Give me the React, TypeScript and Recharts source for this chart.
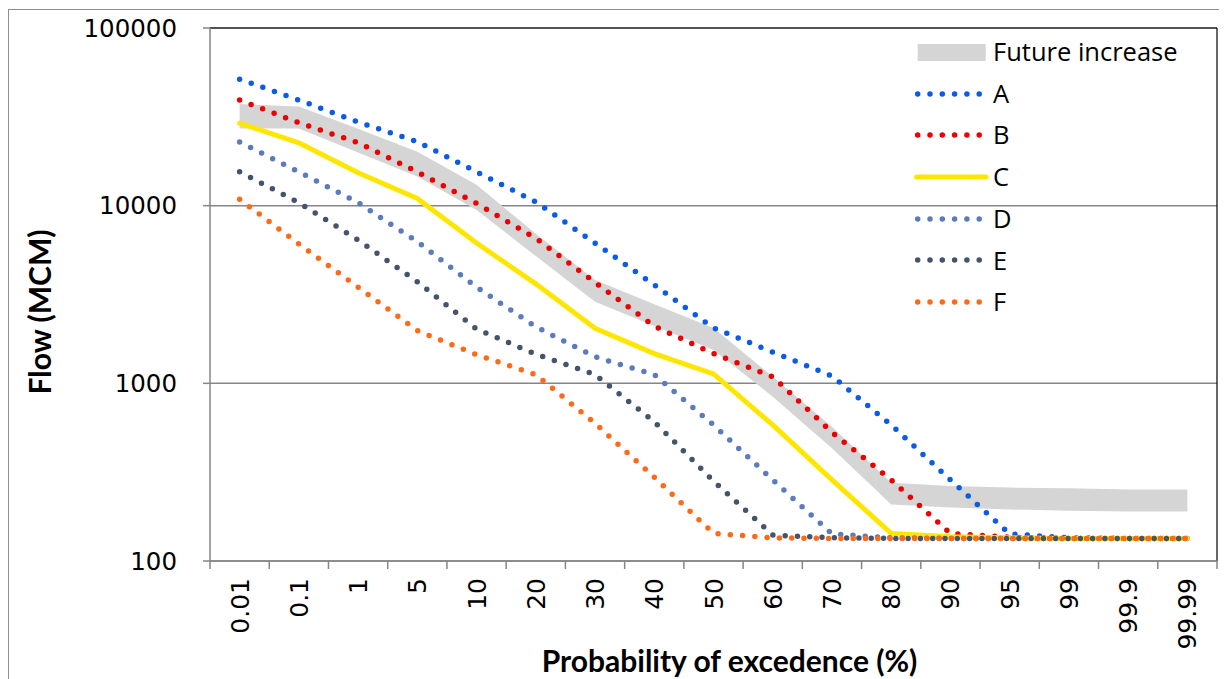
import React from "react"
import {
  Area,
  CartesianGrid,
  ComposedChart,
  Line,
  ReferenceLine,
  XAxis,
  YAxis,
} from "recharts"

const categories = ["0.01", "0.1", "1", "5", "10", "20", "30", "40", "50", "60", "70", "80", "90", "95", "99", "99.9", "99.99"]

const seriesA = [51500, 39300, 29600, 22900, 15500, 10500, 6160, 3580, 2050, 1500, 1100, 583, 286, 142, 135, 134, 134]
const seriesB = [39300, 29300, 22600, 15500, 10300, 6550, 3700, 2100, 1470, 1090, 530, 286, 143, 136, 134, 134, 134]
const seriesC = [29100, 22600, 15300, 10990, 6160, 3630, 2040, 1470, 1130, 583, 286, 143, 137, 135, 134, 134, 134]
const seriesD = [22800, 15500, 10400, 6280, 3480, 2080, 1410, 1120, 583, 286, 142, 135, 134, 134, 134, 134, 134]
const seriesE = [15500, 10400, 6410, 3730, 2020, 1460, 1120, 608, 282, 140, 135, 134, 134, 134, 134, 134, 134]
const seriesF = [10860, 6090, 3480, 1980, 1450, 1120, 596, 296, 143, 135, 134, 134, 134, 134, 134, 134, 134]

// future increase band (lower, upper)
const bandLow = [27200, 27200, 19900, 14600, 9460, 5200, 2880, 2100, 1540, 841, 431, 208, 200, 195, 192, 190, 190]
const bandHigh = [37300, 36100, 27100, 20100, 13100, 6950, 3820, 2790, 2050, 1090, 570, 276, 264, 259, 257, 253, 253]

const yTicks = [100, 1000, 10000, 100000]

const series = [
  { key: "A", values: seriesA, color: "#0a5ce6", dotted: true },
  { key: "B", values: seriesB, color: "#ee0000", dotted: true },
  { key: "C", values: seriesC, color: "#ffe600", dotted: false },
  { key: "D", values: seriesD, color: "#5b7bbd", dotted: true },
  { key: "E", values: seriesE, color: "#44546a", dotted: true },
  { key: "F", values: seriesF, color: "#ff6a17", dotted: true },
]

const data = categories.map((label, i) => {
  const row: Record<string, any> = { label, band: [bandLow[i], bandHigh[i]] }
  series.forEach((s) => {
    row[s.key] = s.values[i]
  })
  return row
})

const AXIS_GRAY = "#868686"
const BAND_GRAY = "#d5d5d5"
const DOT_DASH = "0 12.3"

function XTick(props: any) {
  const { x, y, payload, index } = props
  const half = payload && payload.offset ? payload.offset : 29.6
  const last = index === categories.length - 1
  return (
    <g>
      <line x1={x - half} y1={y} x2={x - half} y2={y + 8} stroke={AXIS_GRAY} strokeWidth={1.5} />
      {last && <line x1={x + half} y1={y} x2={x + half} y2={y + 8} stroke={AXIS_GRAY} strokeWidth={1.5} />}
      <text
        x={x}
        y={y + 17}
        transform={`rotate(-90, ${x}, ${y + 17})`}
        textAnchor="end"
        dy="0.36em"
        fill="#000"
        fontFamily="DejaVu Sans"
        fontSize={25}
      >
        {payload.value}
      </text>
    </g>
  )
}

function LegendBox() {
  return (
    <div style={{ position: "absolute", left: 904, top: 21, fontFamily: "Open Sans", fontSize: 25.5, color: "#000" }}>
      <div style={{ display: "flex", alignItems: "center", height: 41.7 }}>
        <svg width={80} height={20}>
          <rect x={4.7} y={2} width={68} height={17} fill={BAND_GRAY} />
        </svg>
        <span style={{ lineHeight: 1 }}>Future increase</span>
      </div>
      {series.map((s) => (
        <div key={s.key} style={{ display: "flex", alignItems: "center", height: 41.7 }}>
          <svg width={80} height={20}>
            {s.dotted ? (
              <line x1={4.7} y1={10} x2={70} y2={10} stroke={s.color} strokeWidth={5.5} strokeLinecap="round" strokeDasharray={DOT_DASH} />
            ) : (
              <line x1={3.5} y1={10} x2={73} y2={10} stroke={s.color} strokeWidth={5} strokeLinecap="round" />
            )}
          </svg>
          <span style={{ lineHeight: 1 }}>{s.key}</span>
        </div>
      ))}
    </div>
  )
}

export default function App() {
  return (
    <div
      style={{
        position: "relative",
        top: 1,
        width: 1219,
        height: 670,
        borderLeft: "1px solid #8e8e8e",
        borderTop: "1px solid #8e8e8e",
      }}
    >
      <ComposedChart
        width={1214}
        height={668}
        data={data}
        margin={{ top: 18, right: 6, left: 0, bottom: 0 }}
      >
        <CartesianGrid horizontal vertical={false} stroke={AXIS_GRAY} strokeWidth={1.5} />
        <XAxis
          dataKey="label"
          scale="band"
          interval={0}
          height={117}
          tickSize={0}
          tickMargin={0}
          tickLine={false}
          axisLine={{ stroke: AXIS_GRAY, strokeWidth: 1.5 }}
          tick={<XTick />}
          label={{
            content: (p: any) => {
              const vb = p.viewBox
              return (
                <text
                  x={vb.x + vb.width / 2 + 16}
                  y={651}
                  textAnchor="middle"
                  dy="0.36em"
                  fontFamily="Lato"
                  fontWeight="bold"
                  fontSize={30}
                  fill="#000"
                >
                  Probability of excedence (%)
                </text>
              )
            },
          }}
        />
        <YAxis
          scale="log"
          domain={[100, 100000]}
          ticks={yTicks}
          allowDataOverflow
          width={201}
          tickSize={7}
          tickMargin={26}
          axisLine={{ stroke: AXIS_GRAY, strokeWidth: 1.5 }}
          tickLine={{ stroke: AXIS_GRAY, strokeWidth: 1.5 }}
          tick={{ fill: "#000", fontSize: 24.5, fontFamily: "DejaVu Sans" }}
          label={{
            content: () => (
              <text
                x={31}
                y={302}
                transform="rotate(-90, 31, 302)"
                textAnchor="middle"
                dy="0.36em"
                fontFamily="Lato"
                fontWeight="bold"
                fontSize={30}
                fill="#000"
              >
                Flow (MCM)
              </text>
            ),
          }}
        />
        <ReferenceLine y={100000} stroke="#000" strokeWidth={1.2} />
        <ReferenceLine x="99.99" position="end" stroke="#000" strokeWidth={1.2} />
        <Area
          dataKey="band"
          type="linear"
          stroke="none"
          fill={BAND_GRAY}
          fillOpacity={1}
          isAnimationActive={false}
          activeDot={false}
        />
        {series.map((s) => (
          <Line
            key={s.key}
            dataKey={s.key}
            type="linear"
            stroke={s.color}
            strokeWidth={s.dotted ? 5.5 : 5}
            strokeLinecap="round"
            strokeDasharray={s.dotted ? DOT_DASH : undefined}
            dot={false}
            activeDot={false}
            isAnimationActive={false}
          />
        ))}
      </ComposedChart>
      <LegendBox />
    </div>
  )
}
